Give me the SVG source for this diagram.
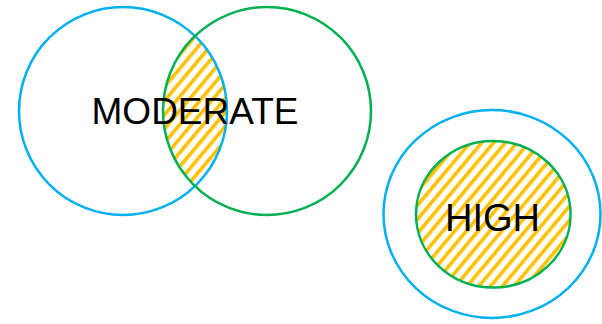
<svg xmlns="http://www.w3.org/2000/svg" width="602" height="324" viewBox="0 0 602 324">
<style>
.blue{fill:none;stroke:#00B0F0;stroke-width:2.5}
.green{fill:none;stroke:#00B050;stroke-width:2.5}
.lbl{font-family:"Liberation Sans",Arial,sans-serif;fill:#000;text-anchor:middle}
</style>
<defs>
<pattern id="hatch" patternUnits="userSpaceOnUse" width="9" height="9" patternTransform="rotate(40)">
<rect x="0" y="0" width="3.6" height="9" fill="#FFC000"/>
</pattern>
<clipPath id="clipGreen"><circle cx="267" cy="111" r="104"/></clipPath>
</defs>
<g id="moderate">
<circle cx="123" cy="111" r="104" fill="url(#hatch)" clip-path="url(#clipGreen)"/>
<circle class="blue" cx="123" cy="111" r="104"/>
<circle class="green" cx="267" cy="111" r="104"/>
<text class="lbl" x="195" y="124" font-size="37">MODERATE</text>
</g>
<g id="high">
<ellipse class="blue" cx="492" cy="214" rx="108.5" ry="104"/>
<ellipse cx="493.3" cy="214.3" rx="77.3" ry="73.3" fill="url(#hatch)" stroke="#00B050" stroke-width="2.5"/>
<text class="lbl" x="492.5" y="231" font-size="38">HIGH</text>
</g>
<g id="connectors"/>
</svg>
